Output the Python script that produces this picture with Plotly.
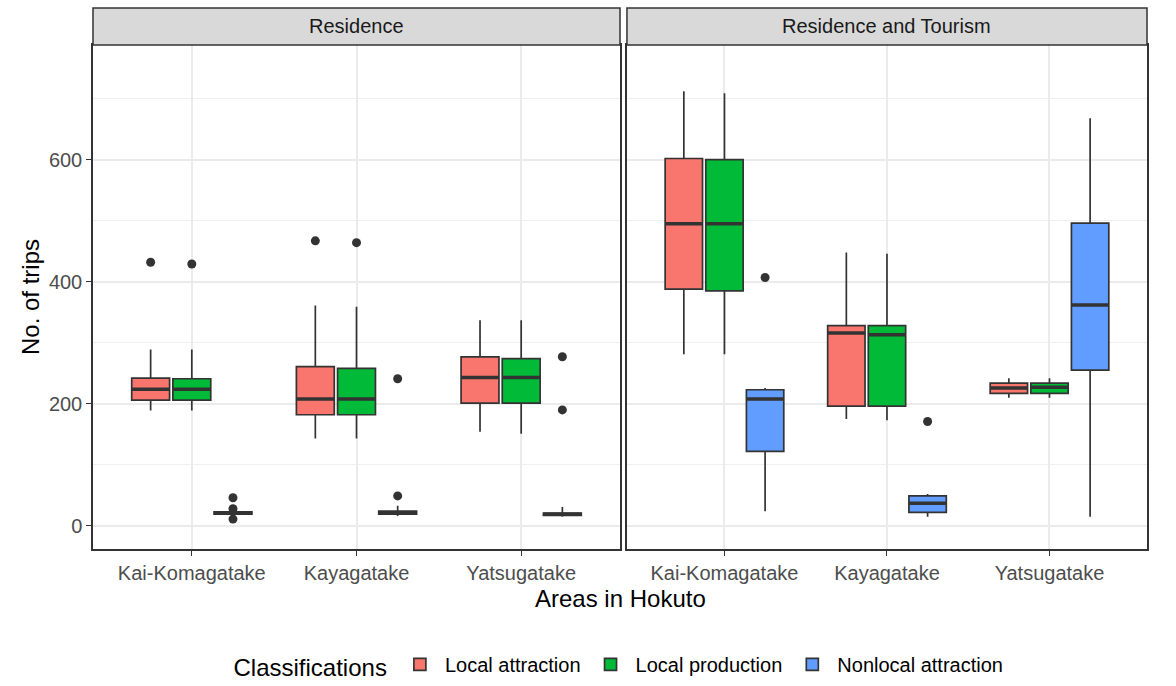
import plotly.graph_objects as go

# Areas and classification groups
areas = ["Kai-Komagatake", "Kayagatake", "Yatsugatake"]
classes = ["Local attraction", "Local production", "Nonlocal attraction"]
colors = ["#F8766D", "#00BA38", "#619CFF"]
panels = ["Residence", "Residence and Tourism"]

# Box statistics per class (one value per area): lower whisker, q1, median, q3, upper whisker
# --- Residence ---
res_la_low = [189, 143, 154]
res_la_q1 = [206, 182, 201]
res_la_med = [224, 208, 243]
res_la_q3 = [242, 261, 277]
res_la_up = [289, 361, 337]

res_lp_low = [189, 143, 151]
res_lp_q1 = [206, 182, 201]
res_lp_med = [224, 208, 243]
res_lp_q3 = [241, 258, 274]
res_lp_up = [289, 359, 337]

res_na_low = [17, 16, 15]
res_na_q1 = [19, 19, 17]
res_na_med = [21, 21, 19]
res_na_q3 = [23, 24, 21]
res_na_up = [25, 33, 31]

# --- Residence and Tourism ---
rt_la_low = [281, 175, 210]
rt_la_q1 = [388, 196, 217]
rt_la_med = [495, 316, 226]
rt_la_q3 = [602, 328, 234]
rt_la_up = [712, 448, 242]

rt_lp_low = [281, 173, 210]
rt_lp_q1 = [385, 196, 217]
rt_lp_med = [495, 313, 227]
rt_lp_q3 = [600, 328, 234]
rt_lp_up = [709, 446, 242]

rt_na_low = [24, 15, 15]
rt_na_q1 = [122, 22, 255]
rt_na_med = [208, 37, 362]
rt_na_q3 = [223, 49, 496]
rt_na_up = [226, 52, 668]

# Outlying observations: (area index, value)
res_la_out = [(0, 432), (1, 467)]
res_lp_out = [(0, 429), (1, 464)]
res_na_out = [(0, 46), (0, 28), (0, 11), (1, 241), (1, 49), (2, 277), (2, 190)]
rt_la_out = []
rt_lp_out = []
rt_na_out = [(0, 407), (1, 171)]

stats = {
    0: [
        (res_la_low, res_la_q1, res_la_med, res_la_q3, res_la_up, res_la_out),
        (res_lp_low, res_lp_q1, res_lp_med, res_lp_q3, res_lp_up, res_lp_out),
        (res_na_low, res_na_q1, res_na_med, res_na_q3, res_na_up, res_na_out),
    ],
    1: [
        (rt_la_low, rt_la_q1, rt_la_med, rt_la_q3, rt_la_up, rt_la_out),
        (rt_lp_low, rt_lp_q1, rt_lp_med, rt_lp_q3, rt_lp_up, rt_lp_out),
        (rt_na_low, rt_na_q1, rt_na_med, rt_na_q3, rt_na_up, rt_na_out),
    ],
}

FONT = "Liberation Sans, Arial, sans-serif"
EDGE = "#333333"
dodge = [-0.25, 0.0, 0.25]
bw = 0.23

fig = go.Figure()

for p in (0, 1):
    xa = "x" if p == 0 else "x2"
    ya = "y" if p == 0 else "y2"
    for c, (low, q1, med, q3, up, outs) in enumerate(stats[p]):
        xs = [i + dodge[c] for i in range(len(areas))]
        fig.add_trace(go.Box(
            x=xs, q1=q1, median=med, q3=q3, lowerfence=low, upperfence=up,
            width=bw, whiskerwidth=0,
            fillcolor=colors[c], line=dict(color=EDGE, width=1.7),
            name=classes[c], legendgroup=classes[c], showlegend=(p == 0),
            xaxis=xa, yaxis=ya, boxpoints=False,
        ))
        # thicker median bar
        mx, my = [], []
        for x0, m in zip(xs, med):
            mx += [x0 - bw / 2, x0 + bw / 2, None]
            my += [m, m, None]
        fig.add_trace(go.Scatter(
            x=mx, y=my, mode="lines", line=dict(color=EDGE, width=3.5),
            showlegend=False, hoverinfo="skip", xaxis=xa, yaxis=ya,
        ))
        if outs:
            fig.add_trace(go.Scatter(
                x=[a + dodge[c] for a, _ in outs], y=[v for _, v in outs],
                mode="markers", marker=dict(color=EDGE, size=9),
                showlegend=False, xaxis=xa, yaxis=ya,
            ))

common_x = dict(
    tickvals=[0, 1, 2], ticktext=areas, range=[-0.6, 2.6],
    showgrid=True, gridcolor="#EBEBEB", gridwidth=1.8, zeroline=False,
    showline=True, mirror=True, linecolor=EDGE, linewidth=1.5,
    ticks="outside", ticklen=5, tickwidth=1.4, tickcolor=EDGE,
    tickfont=dict(family=FONT, size=20, color="#4D4D4D"),
)
common_y = dict(
    range=[-38, 788], tickvals=[0, 200, 400, 600],
    showgrid=True, gridcolor="#EBEBEB", gridwidth=1.8, zeroline=False,
    minor=dict(tickvals=[100, 300, 500, 700], showgrid=True, gridcolor="#EFEFEF", gridwidth=1),
    showline=True, mirror=True, linecolor=EDGE, linewidth=1.5,
    tickcolor=EDGE, tickwidth=1.4, tickfont=dict(family=FONT, size=20, color="#4D4D4D"),
)

fig.update_layout(
    width=1176, height=686,
    margin=dict(l=93, r=29, t=45, b=137, autoexpand=False),
    paper_bgcolor="white", plot_bgcolor="white",
    font=dict(family=FONT, color="#000000"),
    boxmode="overlay",
    xaxis=dict(domain=[0, 0.5], anchor="y", **common_x),
    xaxis2=dict(domain=[0.5066, 1], anchor="y2", **common_x),
    yaxis=dict(anchor="x", ticks="outside", ticklen=5, **common_y),
    yaxis2=dict(anchor="x2", matches="y", showticklabels=False, ticks="", **common_y),
    legend=dict(
        orientation="h", x=0.5, xanchor="center", y=-0.232, yanchor="middle",
        title=dict(text="Classifications", font=dict(family=FONT, size=24, color="#000000"), side="left"),
        font=dict(family=FONT, size=20, color="#000000"),
        tracegroupgap=0, itemwidth=40,
    ),
)

# facet strips
strip_h = 37 / 504
for (x0, x1), label in zip([(0, 0.5), (0.5066, 1)], panels):
    fig.add_shape(type="rect", xref="paper", yref="paper",
                  x0=x0, x1=x1, y0=1, y1=1 + strip_h,
                  fillcolor="#D9D9D9", line=dict(color=EDGE, width=1.5))
    fig.add_annotation(xref="paper", yref="paper", x=(x0 + x1) / 2, y=1 + strip_h / 2,
                       text=label, showarrow=False, xanchor="center", yanchor="middle",
                       font=dict(family=FONT, size=20, color="#1A1A1A"))

# axis titles
fig.add_annotation(xref="paper", yref="paper", x=0.5, y=-49 / 504,
                   xanchor="center", yanchor="middle",
                   text="Areas in Hokuto", showarrow=False,
                   font=dict(family=FONT, size=24, color="#000000"))
fig.add_annotation(xref="paper", yref="paper", x=-63 / 1054, y=0.5,
                   xanchor="center", yanchor="middle",
                   text="No. of trips", showarrow=False, textangle=-90,
                   font=dict(family=FONT, size=24, color="#000000"))

fig.write_html("out.html")
